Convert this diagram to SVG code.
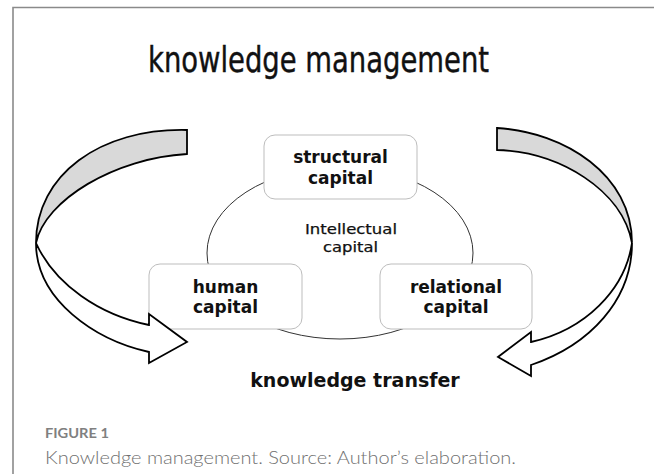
<svg xmlns="http://www.w3.org/2000/svg" width="654" height="474" viewBox="0 0 654 474">
<style>
.frame{fill:none;stroke:#8a8a8a;stroke-width:1.6}
.box{fill:#fff;stroke:#bdbdbd;stroke-width:1}
.ell{fill:none;stroke:#333;stroke-width:1}
.arrow-back{fill:#d9d9d9;stroke:#000;stroke-width:1.8;stroke-linejoin:miter}
.arrow-front{fill:#fff;stroke:#000;stroke-width:1.8;stroke-linejoin:miter}
.lbl{font-family:"DejaVu Sans",sans-serif;font-weight:bold;font-size:17px;fill:#111;text-anchor:middle}
.small{font-family:"DejaVu Sans",sans-serif;font-size:13.5px;fill:#111;text-anchor:middle;stroke:#111;stroke-width:0.25}
</style>
<rect width="654" height="474" fill="#fff"/>
<path class="frame" d="M13,474 V7.5 H654"/>
<text x="318.5" y="72" font-family="DejaVu Sans Condensed, DejaVu Sans, sans-serif" font-size="36" text-anchor="middle" textLength="341" lengthAdjust="spacingAndGlyphs" fill="#111" stroke="#111" stroke-width="0.4">knowledge management</text>
<g id="intellectual-capital">
<ellipse class="ell" cx="340" cy="253" rx="133" ry="86"/>
<text class="small" x="351" y="234" textLength="92" lengthAdjust="spacingAndGlyphs">Intellectual</text>
<text class="small" x="350.5" y="252" textLength="55" lengthAdjust="spacingAndGlyphs">capital</text>
</g>
<g id="structural-capital">
<rect class="box" x="264" y="135" width="153" height="64" rx="11"/>
<text class="lbl" x="340.5" y="163">structural</text>
<text class="lbl" x="340.5" y="184">capital</text>
</g>
<g id="human-capital">
<rect class="box" x="149" y="264" width="153" height="65" rx="11"/>
<text class="lbl" x="225.5" y="293">human</text>
<text class="lbl" x="225.5" y="313">capital</text>
</g>
<g id="relational-capital">
<rect class="box" x="380" y="264" width="152" height="65" rx="11"/>
<text class="lbl" x="456" y="293">relational</text>
<text class="lbl" x="456" y="313">capital</text>
</g>
<g id="connectors">
<path class="arrow-back" d="M187,130 C100,128 36,175 36,243 C45,200 115,158 187,154 Z"/>
<path class="arrow-front" d="M36,243 C36,300 95,340 149,352 L149,363 L187,342 L149,314 L149,325 C100,315 55,285 36,243 Z"/>
<path class="arrow-back" d="M497,128 C565,132 632,175 632,243 C622,190 560,152 497,150 Z"/>
<path class="arrow-front" d="M632,243 C632,300 590,345 531,365 L531,376 L498,357 L531,332 L531,342 C585,330 625,290 632,243 Z"/>
</g>
<text x="355" y="387" font-family="DejaVu Sans, sans-serif" font-weight="bold" font-size="19" text-anchor="middle" fill="#111">knowledge transfer</text>
<text x="45" y="438" font-family="Lato, sans-serif" font-weight="bold" font-size="14" fill="#808080" textLength="64" lengthAdjust="spacingAndGlyphs">FIGURE 1</text>
<text x="45" y="464" font-family="Lato, sans-serif" font-weight="300" font-size="17" fill="#707070" textLength="471" lengthAdjust="spacingAndGlyphs">Knowledge management. Source: Author’s elaboration.</text>
</svg>
